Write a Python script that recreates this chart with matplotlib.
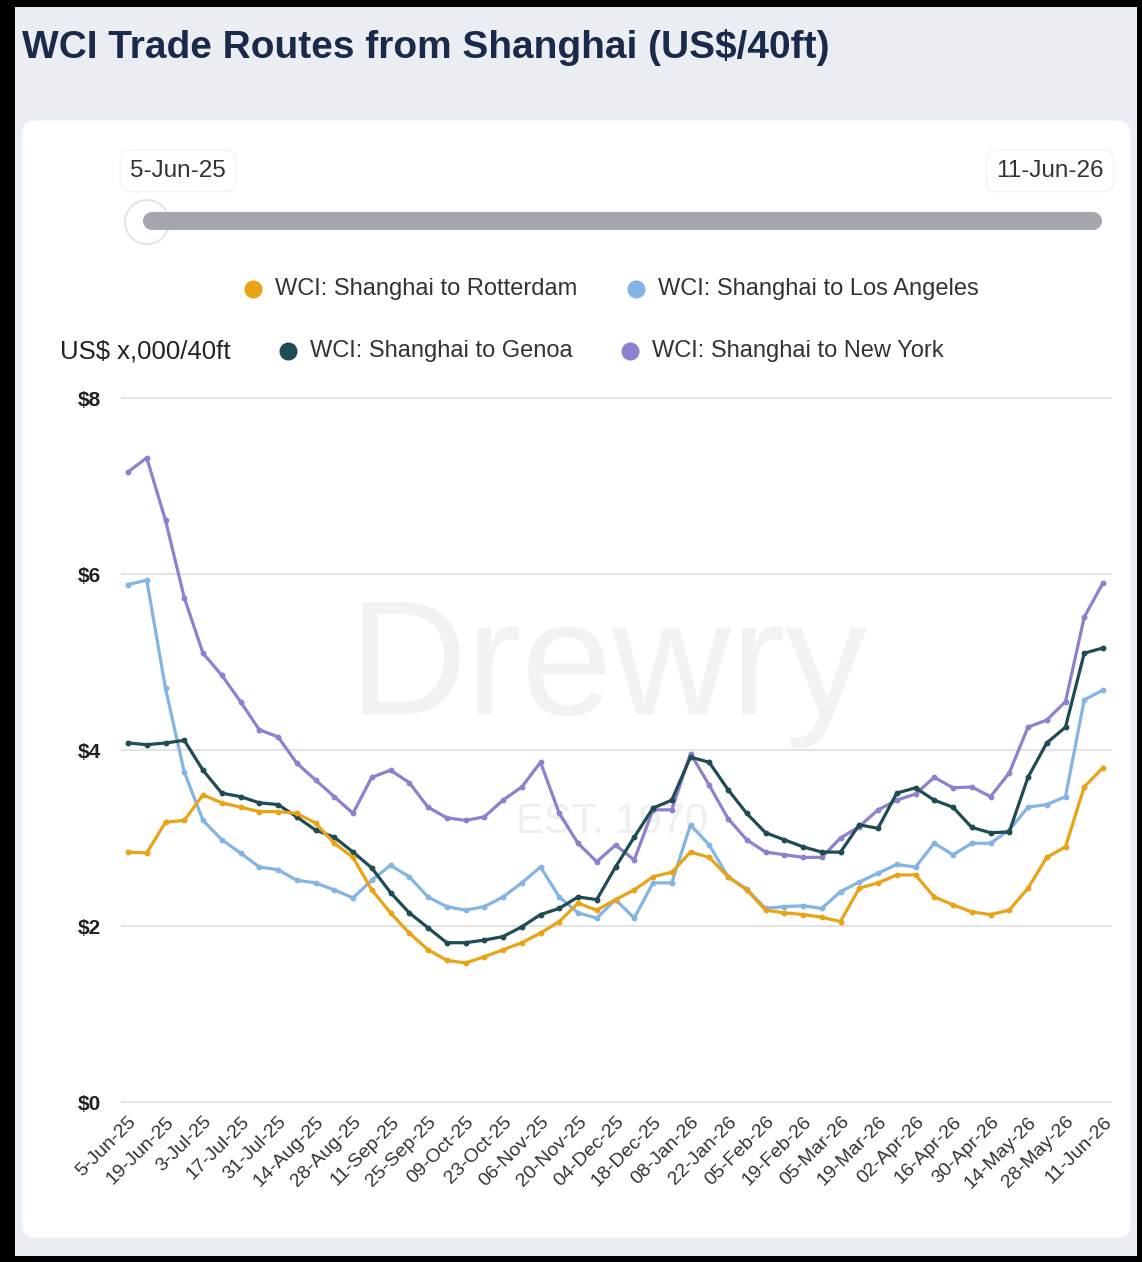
import matplotlib
matplotlib.use("Agg")
import matplotlib.pyplot as plt
from matplotlib.patches import FancyBboxPatch, Rectangle, Circle

# weekly WCI readings, US$ x,000 per 40ft (no print on 1-Jan-26)
weeks = ["5-Jun-25", "12-Jun-25", "19-Jun-25", "26-Jun-25", "3-Jul-25", "10-Jul-25",
         "17-Jul-25", "24-Jul-25", "31-Jul-25", "7-Aug-25", "14-Aug-25", "21-Aug-25",
         "28-Aug-25", "4-Sep-25", "11-Sep-25", "18-Sep-25", "25-Sep-25", "02-Oct-25",
         "09-Oct-25", "16-Oct-25", "23-Oct-25", "30-Oct-25", "06-Nov-25", "13-Nov-25",
         "20-Nov-25", "27-Nov-25", "04-Dec-25", "11-Dec-25", "18-Dec-25", "25-Dec-25",
         "08-Jan-26", "15-Jan-26", "22-Jan-26", "29-Jan-26", "05-Feb-26", "12-Feb-26",
         "19-Feb-26", "26-Feb-26", "05-Mar-26", "12-Mar-26", "19-Mar-26", "26-Mar-26",
         "02-Apr-26", "09-Apr-26", "16-Apr-26", "23-Apr-26", "30-Apr-26", "07-May-26",
         "14-May-26", "21-May-26", "28-May-26", "04-Jun-26", "11-Jun-26"]

rotterdam = [2.84, 2.83, 3.18, 3.20, 3.49, 3.40, 3.35, 3.30, 3.30, 3.28, 3.17, 2.94,
             2.78, 2.41, 2.15, 1.92, 1.73, 1.61, 1.58, 1.65, 1.73, 1.81, 1.92, 2.05,
             2.26, 2.18, 2.30, 2.41, 2.56, 2.61, 2.84, 2.78, 2.56, 2.41, 2.18, 2.15,
             2.13, 2.10, 2.05, 2.43, 2.49, 2.58, 2.58, 2.33, 2.24, 2.16, 2.13, 2.18,
             2.43, 2.78, 2.90, 3.58, 3.80]
los_angeles = [5.88, 5.93, 4.70, 3.75, 3.20, 2.98, 2.83, 2.67, 2.64, 2.52, 2.49, 2.41,
               2.32, 2.52, 2.69, 2.56, 2.33, 2.22, 2.18, 2.22, 2.33, 2.49, 2.67, 2.33,
               2.15, 2.09, 2.30, 2.09, 2.49, 2.49, 3.15, 2.92, 2.56, 2.42, 2.20, 2.22,
               2.23, 2.20, 2.39, 2.50, 2.60, 2.70, 2.67, 2.94, 2.81, 2.94, 2.94, 3.09,
               3.35, 3.38, 3.47, 4.57, 4.68]
genoa = [4.08, 4.06, 4.08, 4.11, 3.77, 3.51, 3.47, 3.40, 3.38, 3.24, 3.09, 3.01,
         2.84, 2.66, 2.38, 2.15, 1.98, 1.81, 1.81, 1.84, 1.88, 1.99, 2.13, 2.20,
         2.33, 2.30, 2.67, 3.01, 3.34, 3.43, 3.92, 3.86, 3.55, 3.28, 3.06, 2.98,
         2.90, 2.84, 2.84, 3.15, 3.11, 3.51, 3.57, 3.43, 3.35, 3.12, 3.06, 3.07,
         3.69, 4.08, 4.26, 5.10, 5.16]
new_york = [7.16, 7.32, 6.61, 5.73, 5.10, 4.85, 4.55, 4.23, 4.15, 3.85, 3.66, 3.47,
            3.28, 3.69, 3.77, 3.63, 3.35, 3.23, 3.20, 3.24, 3.43, 3.58, 3.86, 3.28,
            2.94, 2.73, 2.92, 2.75, 3.32, 3.32, 3.96, 3.60, 3.22, 2.98, 2.84, 2.81,
            2.78, 2.78, 3.00, 3.13, 3.32, 3.43, 3.50, 3.69, 3.57, 3.58, 3.47, 3.74,
            4.26, 4.34, 4.55, 5.51, 5.90]

series = [
    ("WCI: Shanghai to New York", new_york, "#8E80CF"),
    ("WCI: Shanghai to Los Angeles", los_angeles, "#84B4E4"),
    ("WCI: Shanghai to Genoa", genoa, "#1F4B53"),
    ("WCI: Shanghai to Rotterdam", rotterdam, "#E8A317"),
]

plt.rcParams['font.family'] = ['Liberation Sans', 'DejaVu Sans']

W, H = 1142, 1262
fig = plt.figure(figsize=(W / 100, H / 100), dpi=100, facecolor='black')

# page decoration in pixel coordinates
bg = fig.add_axes([0, 0, 1, 1], zorder=0)
bg.set_xlim(0, W)
bg.set_ylim(H, 0)
bg.axis('off')
bg.add_patch(Rectangle((15, 7), W - 20, H - 13, color='#EAEEF2', lw=0))
bg.add_patch(FancyBboxPatch((22, 120), W - 33, 1118, boxstyle='round,pad=0,rounding_size=14',
                            fc='white', ec='#F2F2F2', lw=1))
bg.text(22, 47, "WCI Trade Routes from Shanghai (US$/40ft)", fontsize=28, weight='bold',
        color='#1B2A4A', va='center', ha='left')

# watermark
bg.text(608, 672, "Drewry", fontsize=118, color='#F2F2F4', ha='center', va='center')
bg.text(612, 822, "EST. 1970", fontsize=30, color='#EFEFF1', ha='center', va='center')

# range slider
for txt, cx in [("5-Jun-25", 178), ("11-Jun-26", 1050)]:
    bg.text(cx, 171, txt, fontsize=17.5, color='#333333', ha='center', va='center',
            bbox=dict(boxstyle='round,pad=0.4', fc='white', ec='#F3F3F3', lw=1))
bg.plot([152, 1093], [221, 221], color='#A4A7AB', lw=13, solid_capstyle='round')
bg.add_patch(Circle((147, 222), 22, fc='white', ec='#E4E4E4', lw=1.5))

# legend
legend_pos = [("WCI: Shanghai to Rotterdam", 253, 289), ("WCI: Shanghai to Los Angeles", 636, 289),
              ("WCI: Shanghai to Genoa", 288, 351), ("WCI: Shanghai to New York", 630, 351)]
colors = {name: c for name, _, c in series}
for name, lx, ly in legend_pos:
    bg.plot(lx, ly, 'o', ms=13, color=colors[name], mec='none')
    bg.text(lx + 22, ly, name, fontsize=17, color='#333333', ha='left', va='center')
bg.text(60, 351, "US$ x,000/40ft", fontsize=18.5, color='#222222', ha='left', va='center')

# chart area
step = 975 / 52
left_px, right_px = 128 - 0.4 * step, 1103 + 0.5 * step
top_px, bot_px = 398 - 0.05 * 88, 1102 + 0.05 * 88
ax = fig.add_axes([left_px / W, 1 - bot_px / H, (right_px - left_px) / W, (bot_px - top_px) / H],
                  zorder=1)
ax.patch.set_alpha(0)
x = list(range(len(weeks)))
for name, vals, c in series:
    ax.plot(x, vals, color=c, lw=2.3, marker='o', ms=3.2, label=name)

ax.set_xlim(-0.4, len(weeks) - 0.5)
ax.set_ylim(-0.05, 8.05)
ax.set_yticks([0, 2, 4, 6, 8])
ax.set_yticklabels(["$0", "$2", "$4", "$6", "$8"])
ax.set_xticks(x[::2])
ax.set_xticklabels(weeks[::2], rotation=45, ha='right', va='top', rotation_mode='anchor')
ax.tick_params(axis='x', length=0, labelsize=14, colors='#333333', pad=5)
ax.tick_params(axis='y', length=0, labelsize=15, colors='#222222', pad=14)
for lab in ax.get_yticklabels():
    lab.set_fontweight('bold')
for s in ax.spines.values():
    s.set_visible(False)
ax.grid(axis='y', color='#E3E3E3', lw=1.5)
ax.set_axisbelow(True)

fig.savefig("out.png", dpi=100, facecolor='black')
